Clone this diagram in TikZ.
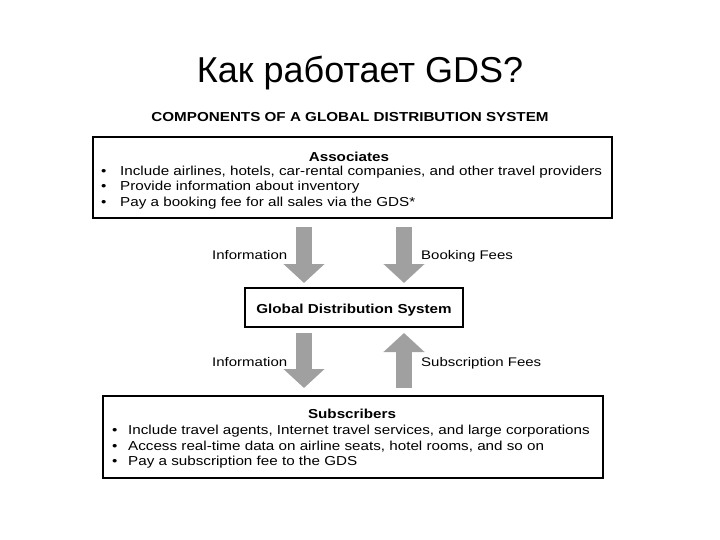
\documentclass[tikz,border=0pt]{standalone}
\usepackage{fontspec}
\setmainfont{Liberation Sans}
\newfontfamily\widefont[FakeStretch=1.17]{Liberation Sans}
\newfontfamily\widerfont[FakeStretch=1.2]{Liberation Sans}
\usetikzlibrary{arrows.meta}
\definecolor{arrgray}{HTML}{A0A0A0}
\tikzset{
  box/.style={draw=black, line width=1.6pt},
  head/.style={font=\widefont\bfseries\fontsize{13}{15}\selectfont, anchor=base},
  bul/.style={font=\widefont\fontsize{13}{15}\selectfont, anchor=base west, inner sep=0pt},
  lbl/.style={font=\widerfont\fontsize{12.5}{15}\selectfont, anchor=base west, inner sep=0pt},
  bigarrow/.style={draw=arrgray, line width=16pt, -{Triangle[width=40pt,length=19pt]}, shorten >=0pt},
}
\begin{document}
\begin{tikzpicture}[x=1pt,y=-1pt]
\useasboundingbox (0,0) rectangle (720,540);
% title
\node[font=\fontsize{36}{40}\selectfont, anchor=base] (title) at (360,83) {Как работает GDS?};
\node[font=\widefont\bfseries\fontsize{13}{15}\selectfont, anchor=base] (comp) at (350,122) {COMPONENTS OF A GLOBAL DISTRIBUTION SYSTEM};
% associates box
\draw[box] (93,137) rectangle (612,218);
\node[head] (ahead) at (349,162) {Associates};
\node[bul] (ab1) at (101,176) {\makebox[19pt][l]{•}Include airlines, hotels, car-rental companies, and other travel providers};
\node[bul] (ab2) at (101,191) {\makebox[19pt][l]{•}Provide information about inventory};
\node[bul] (ab3) at (101,207) {\makebox[19pt][l]{•}Pay a booking fee for all sales via the GDS*};
% GDS box
\draw[box] (245,288) rectangle (463,327);
\node[head] (gds) at (354,313) {Global Distribution System};
% subscribers box
\draw[box] (103,396) rectangle (603,478);
\node[head] (shead) at (352,418) {Subscribers};
\node[bul] (sb1) at (112,434) {\makebox[16pt][l]{•}Include travel agents, Internet travel services, and large corporations};
\node[bul] (sb2) at (112,450) {\makebox[16pt][l]{•}Access real-time data on airline seats, hotel rooms, and so on};
\node[bul] (sb3) at (112,465) {\makebox[16pt][l]{•}Pay a subscription fee to the GDS};
% arrows
\coordinate (a1s) at (304,227); \coordinate (a1e) at (304,283);
\coordinate (a2s) at (404,227); \coordinate (a2e) at (404,283);
\coordinate (a3s) at (304,333); \coordinate (a3e) at (304,388);
\coordinate (a4s) at (404,388); \coordinate (a4e) at (404,333);
\draw[bigarrow] (a1s) -- (a1e);
\draw[bigarrow] (a2s) -- (a2e);
\draw[bigarrow] (a3s) -- (a3e);
\draw[bigarrow] (a4s) -- (a4e);
% labels
\node[lbl] (l1) at (212,259) {Information};
\node[lbl] (l2) at (421,259) {Booking Fees};
\node[lbl] (l3) at (212,366) {Information};
\node[lbl] (l4) at (421,366) {Subscription Fees};
\end{tikzpicture}
\end{document}
